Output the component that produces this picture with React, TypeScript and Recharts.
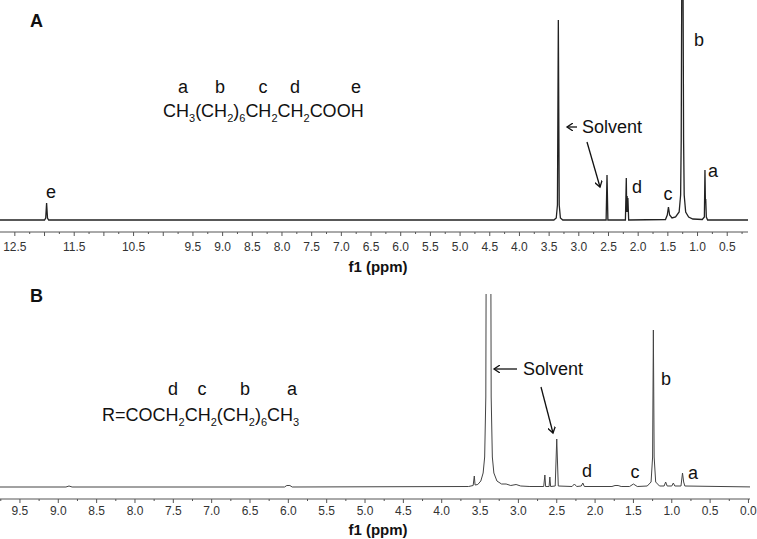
import React from 'react';
import { LineChart, Line, XAxis, YAxis } from 'recharts';

// spectrum A: octanoic acid (ppm, intensity)
const ppmA = [
  12.9, 12.0, 11.98, 11.965, 11.95, 11.93,
  3.42, 3.38, 3.36, 3.345, 3.33, 3.31, 3.27,
  2.54, 2.525, 2.51,
  2.215, 2.2, 2.193, 2.186, 2.18, 2.173, 2.16,
  1.54, 1.51, 1.49, 1.47, 1.43,
  1.37, 1.31, 1.285, 1.275, 1.265, 1.245, 1.235, 1.225, 1.2, 1.15, 1.08,
  0.92, 0.885, 0.875, 0.868, 0.862, 0.852, 0.83, 0.0,
];
const intA = [
  0, 0, 2, 17, 2, 0,
  0, 2, 15, 200, 15, 2, 0,
  0, 45, 0,
  0, 42, 8, 24, 8, 22, 0,
  0.5, 5, 13, 5, 2,
  3, 8, 25, 80, 250, 250, 80, 25, 8, 3, 1,
  0.5, 3, 50, 20, 21, 3, 0, 0,
];

// spectrum B: ester (ppm, intensity)
const ppmB = [
  9.9, 8.9, 8.86, 8.82, 6.05, 6.02, 5.98, 5.95,
  3.65, 3.59, 3.575, 3.565, 3.53, 3.49, 3.46, 3.44, 3.425, 3.418, 3.362, 3.355, 3.34, 3.32, 3.28, 3.22,
  3.16, 3.1, 3.03, 2.97, 2.85,
  2.67, 2.655, 2.645, 2.6, 2.59, 2.58, 2.52, 2.5, 2.48,
  2.3, 2.27, 2.24, 2.18, 2.16, 2.14,
  1.78, 1.74, 1.7, 1.66, 1.55, 1.5, 1.45,
  1.32, 1.27, 1.25, 1.24, 1.23, 1.21, 1.16,
  1.1, 1.08, 1.06, 1.0, 0.98, 0.96, 0.88, 0.86, 0.845, 0.83, -0.1,
];
const intB = [
  0, 0, 1, 0, 0, 1.5, 1.5, 0,
  0.5, 1.5, 11, 2, 2.5, 6, 14, 30, 90, 300, 300, 90, 30, 14, 6, 3,
  3, 1.5, 2.5, 1, 0.5,
  0.5, 12, 0.5, 0.5, 10, 0.5, 1, 48, 1,
  0.5, 3, 0.5, 1, 4, 0.5,
  0.5, 1.5, 1.5, 0.5, 0.5, 3, 0.5,
  1, 5, 30, 157, 30, 5, 1,
  1, 5, 1, 1, 4, 1, 1, 14, 5, 1, 0,
];

const labelsA = ['12.5', '11.5', '10.5', '9.5', '9.0', '8.5', '8.0', '7.5', '7.0', '6.5', '6.0', '5.5', '5.0', '4.5', '4.0', '3.5', '3.0', '2.5', '2.0', '1.5', '1.0', '0.5'];
const labelsB = ['9.5', '9.0', '8.5', '8.0', '7.5', '7.0', '6.5', '6.0', '5.5', '5.0', '4.5', '4.0', '3.5', '3.0', '2.5', '2.0', '1.5', '1.0', '0.5', '0.0'];

const dataA = ppmA.map((x, i) => ({ x, y: intA[i] }));
const dataB = ppmB.map((x, i) => ({ x, y: intB[i] }));

const quarterTicks = (hi: number, lo: number) => {
  const out: number[] = [];
  for (let v = hi; v >= lo - 1e-9; v -= 0.25) out.push(Math.round(v * 100) / 100);
  return out;
};

const font = '"Liberation Sans", Arial, sans-serif';

const makeTick = (labels: string[], dy: number) => (props: any) => {
  const { x, y, payload } = props;
  const v = payload.value as number;
  const major = Math.abs(v * 2 - Math.round(v * 2)) < 1e-6;
  const txt = v.toFixed(1);
  return (
    <g>
      <line x1={x} x2={x} y1={y} y2={y + (major ? 4 : 2)} stroke="#555" />
      {major && labels.includes(txt) && (
        <text x={x} y={y + dy} textAnchor="middle" fontSize={12} fill="#333" fontFamily={font}>
          {txt}
        </text>
      )}
    </g>
  );
};

const t = { fontFamily: font, fontSize: 18, fill: '#111' };

// formula parts: [text, subscript]
const formulaA: [string, string][] = [['CH', '3'], ['(CH', '2'], [')', '6'], ['CH', '2'], ['CH', '2'], ['COOH', '']];
const formulaB: [string, string][] = [['R=COCH', '2'], ['CH', '2'], ['(CH', '2'], [')', '6'], ['CH', '3']];

const Formula = ({ x, y, parts }: { x: number; y: number; parts: [string, string][] }) => (
  <text x={x} y={y} {...t}>
    {parts.map(([main, s], i) => (
      <React.Fragment key={i}>
        <tspan dy={i === 0 ? 0 : -5}>{main}</tspan>
        {s && <tspan dy={5} fontSize={11}>{s}</tspan>}
      </React.Fragment>
    ))}
  </text>
);

export default function App() {
  return (
    <div style={{ position: 'absolute', left: 0, top: 0, width: 757, height: 539, background: '#fff' }}>
      <div style={{ position: 'absolute', left: 0, top: 0 }}>
        <LineChart width={757} height={280} data={dataA} margin={{ top: 0, right: 9, left: 0, bottom: 0 }}>
          <XAxis
            dataKey="x"
            type="number"
            domain={[0.15, 12.75]}
            reversed
            allowDataOverflow
            ticks={quarterTicks(12.5, 0.25)}
            interval={0}
            tickSize={0}
            tickMargin={0}
            tickLine={false}
            tick={makeTick(labelsA, 19)}
            axisLine={{ stroke: '#555' }}
            height={48}
          />
          <YAxis hide domain={[-12, 220]} allowDataOverflow />
          <Line dataKey="y" type="linear" dot={false} activeDot={false} stroke="#222" strokeWidth={1.3} isAnimationActive={false} />
        </LineChart>
      </div>
      <div style={{ position: 'absolute', left: 0, top: 280 }}>
        <LineChart width={757} height={259} data={dataB} margin={{ top: 14, right: 7, left: 0, bottom: 0 }}>
          <XAxis
            dataKey="x"
            type="number"
            domain={[-0.02, 9.76]}
            reversed
            allowDataOverflow
            ticks={quarterTicks(9.75, 0)}
            interval={0}
            tickSize={0}
            tickMargin={0}
            tickLine={false}
            tick={makeTick(labelsB, 16)}
            axisLine={{ stroke: '#555' }}
            height={40}
          />
          <YAxis hide domain={[-12, 193]} allowDataOverflow />
          <Line dataKey="y" type="linear" dot={false} activeDot={false} stroke="#444" strokeWidth={1} isAnimationActive={false} />
        </LineChart>
      </div>
      <svg width={757} height={539} style={{ position: 'absolute', left: 0, top: 0, pointerEvents: 'none' }}>
        <defs>
          <marker id="ah" markerWidth="8" markerHeight="8" refX="6" refY="4" orient="auto" markerUnits="userSpaceOnUse">
            <path d="M0,0 L6,4 L0,8" fill="none" stroke="#111" strokeWidth={1.3} />
          </marker>
        </defs>
        {/* panel A */}
        <text x={30} y={27} fontFamily={font} fontSize={18} fontWeight="bold" fill="#111">A</text>
        <text x={183} y={93} textAnchor="middle" {...t}>a</text>
        <text x={220} y={93} textAnchor="middle" {...t}>b</text>
        <text x={263} y={93} textAnchor="middle" {...t}>c</text>
        <text x={295} y={93} textAnchor="middle" {...t}>d</text>
        <text x={356} y={93} textAnchor="middle" {...t}>e</text>
        <Formula x={163} y={117} parts={formulaA} />
        <text x={51} y={198} textAnchor="middle" {...t}>e</text>
        <text x={582} y={133} {...t}>Solvent</text>
        <line x1={577} y1={127} x2={567} y2={127} stroke="#111" strokeWidth={1.3} markerEnd="url(#ah)" />
        <line x1={587} y1={142} x2={600} y2={187} stroke="#111" strokeWidth={1.3} markerEnd="url(#ah)" />
        <text x={637} y={193} textAnchor="middle" {...t}>d</text>
        <text x={668} y={200} textAnchor="middle" {...t}>c</text>
        <text x={699} y={46} textAnchor="middle" {...t}>b</text>
        <text x={713} y={177} textAnchor="middle" {...t}>a</text>
        <text x={378} y={272} textAnchor="middle" fontFamily={font} fontSize={15} fontWeight="bold" fill="#111">f1 (ppm)</text>
        {/* panel B */}
        <text x={30} y={302} fontFamily={font} fontSize={18} fontWeight="bold" fill="#111">B</text>
        <text x={173} y={395} textAnchor="middle" {...t}>d</text>
        <text x={202} y={395} textAnchor="middle" {...t}>c</text>
        <text x={245} y={395} textAnchor="middle" {...t}>b</text>
        <text x={292} y={395} textAnchor="middle" {...t}>a</text>
        <Formula x={102} y={421} parts={formulaB} />
        <text x={523} y={375} {...t}>Solvent</text>
        <line x1={517} y1={369} x2={494} y2={369} stroke="#111" strokeWidth={1.3} markerEnd="url(#ah)" />
        <line x1={541} y1={387} x2={553} y2={433} stroke="#111" strokeWidth={1.3} markerEnd="url(#ah)" />
        <text x={666} y={385} textAnchor="middle" {...t}>b</text>
        <text x={587} y={477} textAnchor="middle" {...t}>d</text>
        <text x={635} y={478} textAnchor="middle" {...t}>c</text>
        <text x={693} y={479} textAnchor="middle" {...t}>a</text>
        <text x={378} y={535} textAnchor="middle" fontFamily={font} fontSize={15} fontWeight="bold" fill="#111">f1 (ppm)</text>
      </svg>
    </div>
  );
}
